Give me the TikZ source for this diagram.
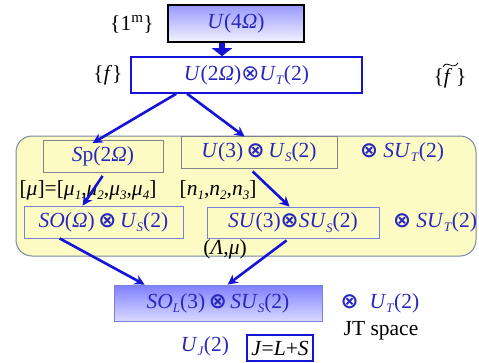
\documentclass[tikz,border=0pt]{standalone}
\usepackage{fontspec}
\setmainfont{Liberation Serif}
\newfontfamily\symfont{DejaVu Sans}
\usetikzlibrary{arrows.meta,shadings}
\definecolor{txtblue}{RGB}{40,40,190}
\definecolor{arrblue}{RGB}{20,20,215}
\definecolor{regfill}{RGB}{253,251,196}
\definecolor{regdraw}{RGB}{120,135,160}
\definecolor{boxgray}{RGB}{130,130,140}
\definecolor{boxlb}{RGB}{120,130,220}
\newcommand{\mi}[1]{\textit{#1}}
\newcommand{\lsub}[1]{\raisebox{-0.45ex}{\fontsize{13}{13}\selectfont\textit{#1}}}
\newcommand{\botimes}{{\symfont\bfseries\char"2297}}
\newcommand{\totimes}{{\symfont\char"2297}}
\tikzset{
  lbl/.style={font=\fontsize{21.5}{24}\selectfont, inner sep=0pt},
  blbl/.style={lbl, text=txtblue},
  grp/.style={draw=boxgray, line width=0.8pt, fill=regfill, blbl},
  lbgrp/.style={draw=boxlb, line width=0.8pt, fill=regfill, blbl},
  conn/.style={draw=arrblue, line width=2.6pt, -{Stealth[length=10pt,width=10pt]}},
}
\begin{document}
\begin{tikzpicture}[x=1pt,y=-1pt]
\useasboundingbox (0,0) rectangle (479,362);
% top box
\node[draw=black, line width=2.2pt, top color=blue!40!white, bottom color=blue!5!white,
      minimum width=136pt, minimum height=37pt, blbl] (top) at (236,23.5) {\mi{U}(4\mi{Ω})};
\node[draw=arrblue, line width=1.6pt, fill=white, minimum width=231pt, minimum height=36pt, blbl]
      (fbox) at (246.5,75) {\mi{U}(2\mi{Ω})\totimes\mi{U}\lsub{T}(2)};
\draw[draw=arrblue, line width=6pt, -{Triangle[length=8pt,width=20pt]}] ([xshift=-14pt]top.south) -- ([xshift=-24.5pt]fbox.north);
\node[lbl] (onem) at (132,24) {\{1\textsuperscript{m}\}};
\node[lbl] (fl) at (108,75) {\{\mi{f}\}};
\node[lbl] (fr) at (450,78) {\{\mi{f}\,\}};
\draw[line width=0.8pt] ([xshift=-7pt,yshift=1pt]fr.north) .. controls ([xshift=-5pt,yshift=5pt]fr.north) and ([xshift=-2pt,yshift=4pt]fr.north) .. ([xshift=0pt,yshift=3pt]fr.north)
  .. controls ([xshift=2pt,yshift=2pt]fr.north) and ([xshift=6pt,yshift=1pt]fr.north) .. ([xshift=8pt,yshift=5pt]fr.north);
% region
\draw[draw=regdraw, line width=1pt, fill=regfill, rounded corners=16pt] (16,136) rectangle (476,256);
\node[grp, minimum width=120pt, minimum height=32pt] (sp) at (103,156.5) {\mi{S}p(2\mi{Ω})};
\node[grp, minimum width=156pt, minimum height=32pt] (u3) at (259,152) {\mi{U}(3)\,\botimes\,\mi{U}\lsub{S}(2)};
\node[blbl] (sut1) at (402,152) {\botimes\ \mi{SU}\lsub{T}(2)};
\node[lbl] (mu) at (88,190) {[\mi{μ}]=[\mi{μ}\lsub{1},\mi{μ}\lsub{2},\mi{μ}\lsub{3},\mi{μ}\lsub{4}]};
\node[lbl] (nn) at (218,190) {[\mi{n}\lsub{1},\mi{n}\lsub{2},\mi{n}\lsub{3}]};
\node[lbgrp, minimum width=159pt, minimum height=32pt] (so) at (103.5,222) {\mi{SO}(\mi{Ω})\,\botimes\,\mi{U}\lsub{S}(2)};
\node[lbgrp, minimum width=172pt, minimum height=31pt] (su) at (293,222.5) {\mi{SU}(3)\botimes\mi{SU}\lsub{S}(2)};
\node[blbl] (sut2) at (435,222) {\botimes\ \mi{SU}\lsub{T}(2)};
\node[lbl] (lm) at (225,249) {(\mi{Λ},\mi{μ})};
% bottom
\node[draw=boxlb, line width=0.8pt, top color=blue!50!white, bottom color=blue!15!white,
      minimum width=208pt, minimum height=36pt, blbl] (bot) at (218,303) {\mi{SO}\lsub{L}(3)\,\botimes\,\mi{SU}\lsub{S}(2)};
\node[blbl] (ut) at (380,303) {\botimes\ \ \mi{U}\lsub{T}(2)};
\node[lbl] (jt) at (381,331) {JT space};
\node[blbl] (uj) at (205,346) {\mi{U}\lsub{J}(2)};
\node[draw=arrblue, line width=1.6pt, minimum width=66pt, minimum height=26pt, lbl] (jls) at (280,348) {\mi{J}=\mi{L}+\mi{S}};
% connectors
\draw[conn] ([xshift=46pt]fbox.south west) -- ([xshift=50pt,yshift=-3pt]sp.north west);
\draw[conn] ([xshift=57pt]fbox.south west) -- ([xshift=64pt,yshift=-1pt]u3.north west);
\draw[conn] ([xshift=60pt,yshift=-3pt]sp.south west) -- ([xshift=59pt]so.north west);
\draw[conn] ([xshift=72pt,yshift=-3pt]u3.south west) -- ([xshift=83pt]su.north west);
\draw[conn] ([xshift=36pt]so.south west) -- ([xshift=31pt]bot.north west);
\draw[conn] ([xshift=80pt,yshift=-2pt]su.south west) -- ([xshift=114pt]bot.north west);
\end{tikzpicture}
\end{document}
